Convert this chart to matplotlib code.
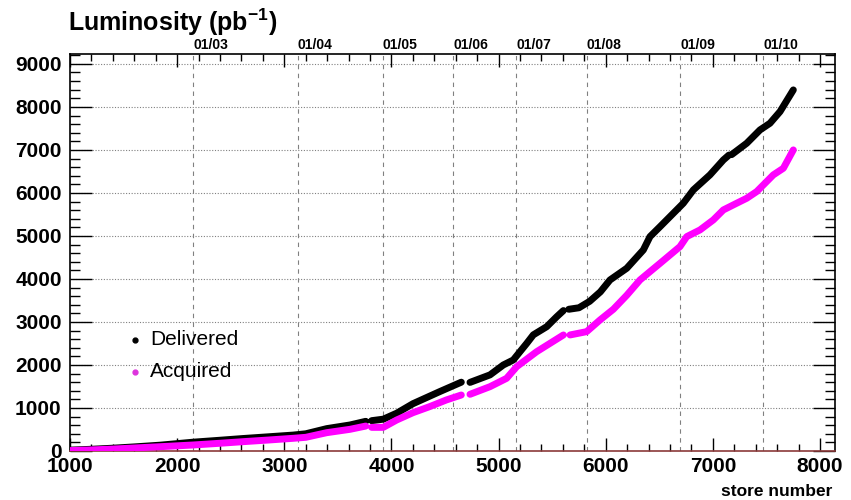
import numpy as np
import matplotlib
matplotlib.use("Agg")
import matplotlib.pyplot as plt
from matplotlib.ticker import MultipleLocator

plt.rcParams['font.family'] = ['Liberation Sans', 'DejaVu Sans']
plt.rcParams['mathtext.fontset'] = 'custom'
plt.rcParams['mathtext.rm'] = 'Liberation Sans'
plt.rcParams['mathtext.bf'] = 'Liberation Sans:bold'

nan = np.nan

# integrated luminosity vs store number (nan = break between runs)
store_del = [1000, 1200, 1400, 1600, 1840, 2150, 2400, 2615, 2850, 3083, 3200, 3396, 3613, 3760, nan,
             3815, 3924, 4050, 4201, 4450, 4652, nan,
             4733, 4920, 5044, 5137, 5200, 5262, 5324, 5449, 5542, 5605, nan,
             5655, 5750, 5850, 5950, 6040, 6196, 6351, 6413, 6507, 6600, 6724, 6818, 6973, 7098, 7150, nan,
             7175, 7316, 7440, 7533, 7627, 7751]
lumi_del = [20, 40, 65, 95, 135, 205, 250, 290, 330, 370, 400, 520, 605, 690, nan,
            705, 740, 880, 1100, 1380, 1600, nan,
            1595, 1770, 2000, 2116, 2310, 2500, 2700, 2890, 3120, 3265, nan,
            3295, 3330, 3480, 3700, 3977, 4248, 4674, 4984, 5216, 5449, 5760, 6070, 6420, 6767, 6880, nan,
            6890, 7155, 7465, 7620, 7891, 8395]

store_acq = [1000, 1200, 1400, 1600, 1840, 2150, 2400, 2615, 2850, 3083, 3200, 3396, 3613, 3760, nan,
             3815, 3924, 4049, 4201, 4356, 4512, 4652, nan,
             4733, 4920, 5075, 5169, 5356, 5605, nan,
             5667, 5822, 5947, 6071, 6196, 6320, 6413, 6507, 6600, 6693, 6756, 6880, 7004, 7098,
             7222, 7316, 7409, 7471, 7564, 7658, 7751]
lumi_acq = [10, 25, 45, 70, 100, 140, 180, 217, 255, 295, 318, 426, 504, 580, nan,
            550, 550, 721, 891, 1031, 1186, 1302, nan,
            1318, 1496, 1690, 1961, 2310, 2698, nan,
            2698, 2775, 3047, 3295, 3620, 3977, 4170, 4364, 4558, 4752, 4984, 5140, 5372, 5605,
            5760, 5876, 6031, 6186, 6419, 6574, 7000]

# start of each calendar year (store number)
year_store = [2148, 3125, 3918, 4578, 5163, 5822, 6696, 7471]
year_label = ["01/03", "01/04", "01/05", "01/06", "01/07", "01/08", "01/09", "01/10"]

fig = plt.figure(figsize=(8.51, 5.0), dpi=100)
ax = fig.add_axes([0.0823, 0.098, 0.8989, 0.794])

ax.plot(store_del, lumi_del, color='black', lw=5, solid_capstyle='round', zorder=3)
ax.plot(store_acq, lumi_acq, color='#ff00ff', lw=5, solid_capstyle='round', zorder=4)

ax.set_xlim(1000, 8140)
ax.set_ylim(0, 9230)

for y in range(1000, 10000, 1000):
    ax.axhline(y, color='#808080', lw=0.8, ls=(0, (1, 1.5)), zorder=1)
for xs, lab in zip(year_store, year_label):
    ax.axvline(xs, color='#808080', lw=0.8, ls=(0, (4, 4)), zorder=1)
    ax.text(xs, 9230 + 40, lab, ha='left', va='bottom', fontsize=10, fontweight='bold')

ax.xaxis.set_major_locator(MultipleLocator(1000))
ax.xaxis.set_minor_locator(MultipleLocator(200))
ax.yaxis.set_major_locator(MultipleLocator(1000))
ax.yaxis.set_minor_locator(MultipleLocator(200))
ax.tick_params(axis='both', which='both', direction='in', top=True, right=True)
ax.tick_params(axis='x', which='major', length=9.5, width=1.0, pad=4)
ax.tick_params(axis='x', which='minor', length=5, width=1.0)
ax.tick_params(axis='y', which='major', length=16, width=1.0, pad=6)
ax.tick_params(axis='y', which='minor', length=7, width=1.0)
for lab in ax.get_xticklabels() + ax.get_yticklabels():
    lab.set_fontsize(15)
    lab.set_fontweight('bold')

for side in ['left', 'right', 'top']:
    ax.spines[side].set_linewidth(1.2)
ax.spines['bottom'].set_color('#8b3a3a')
ax.spines['bottom'].set_linewidth(1.2)

# legend drawn as markers with labels
ax.plot([0.085], [0.28], 'o', ms=3.5, color='black', transform=ax.transAxes)
ax.plot([0.085], [0.199], 'o', ms=3.5, color='#dd33dd', transform=ax.transAxes)
ax.text(0.105, 0.28, "Delivered", transform=ax.transAxes, fontsize=15, va='center')
ax.text(0.105, 0.199, "Acquired", transform=ax.transAxes, fontsize=15, va='center')

fig.text(0.080, 0.925, r"Luminosity (pb$^{\mathbf{-1}}$)", fontsize=18, fontweight='bold', va='bottom')
fig.text(0.978, 0.002, "store number", fontsize=12.5, fontweight='bold', ha='right', va='bottom')

fig.savefig("out.png", dpi=100)
